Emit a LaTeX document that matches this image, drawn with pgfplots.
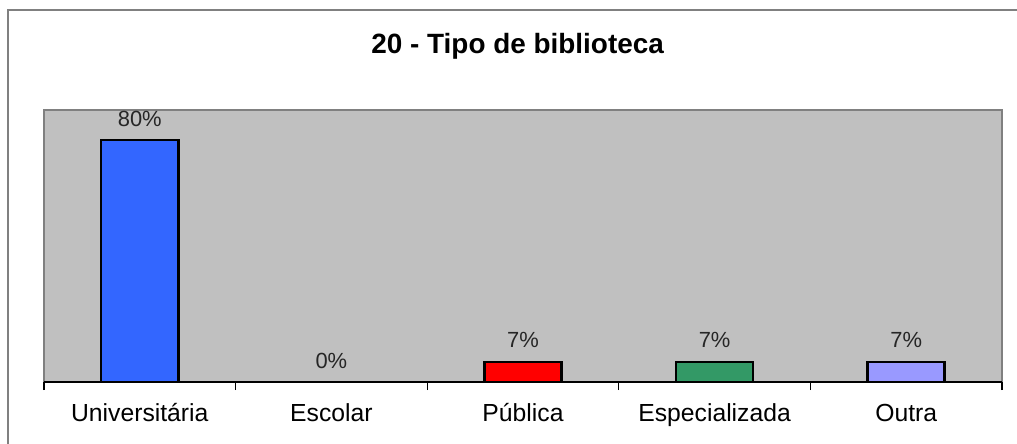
\documentclass[border=0pt]{standalone}
\usepackage{fontspec}
\setmainfont{Liberation Sans}
\usepackage{pgfplots}
\pgfplotsset{compat=1.18}
\definecolor{bggray}{RGB}{192,192,192}
\definecolor{framegray}{RGB}{128,128,128}
\definecolor{cuniv}{RGB}{51,102,255}
\definecolor{cpub}{RGB}{255,0,0}
\definecolor{cesp}{RGB}{51,153,102}
\definecolor{coutra}{RGB}{153,153,255}

\begin{document}
\begin{tikzpicture}
\useasboundingbox (0,0) rectangle (508.5bp,222bp);
% outer chart frame (cut off right and bottom)
\draw[framegray, line width=1bp] (4bp,0) -- (4bp,217bp) -- (508.5bp,217bp);
\begin{axis}[
    at={(22bp,31bp)}, anchor=south west,
    scale only axis,
    width=479bp, height=136bp,
    ybar, bar width=38.5bp, bar shift=0pt,
    xmin=-0.5, xmax=4.5,
    ymin=0, ymax=90,
    axis x line=bottom, axis y line=none,
    axis line style={-, black, line width=1bp},
    axis background/.style={fill=bggray, draw=framegray, line width=1bp},
    xtick={0,1,2,3,4},
    xticklabels={Universitária, Escolar, Pública, Especializada, Outra},
    major tick length=0pt,
    minor xtick={-0.5,0.5,1.5,2.5,3.5,4.5},
    minor tick length=4bp,
    tick align=outside,
    minor tick style={black, line width=0.6bp},
    xticklabel style={font=\fontsize{12.4}{14}\selectfont, anchor=base, yshift=-19.5bp},
    title={\bfseries 20 - Tipo de biblioteca},
    title style={font=\fontsize{14}{16}\selectfont, at={(0.5,1)}, anchor=base, yshift=22.5bp, xshift=-2.7bp},
    nodes near coords,
    point meta=explicit symbolic,
    every node near coord/.append style={font=\fontsize{11}{13}\selectfont, color=black!85, anchor=base, yshift=7bp},
]
\addplot[fill=cuniv, draw=black, line width=1.2bp] coordinates {(0,80) [80\%]};
\addplot[draw=none, fill=none] coordinates {(1,0) [0\%]};
\addplot[fill=cpub, draw=black, line width=1.2bp] coordinates {(2,6.67) [7\%]};
\addplot[fill=cesp, draw=black, line width=1.2bp] coordinates {(3,6.67) [7\%]};
\addplot[fill=coutra, draw=black, line width=1.2bp] coordinates {(4,6.67) [7\%]};
\end{axis}
\end{tikzpicture}
\end{document}
